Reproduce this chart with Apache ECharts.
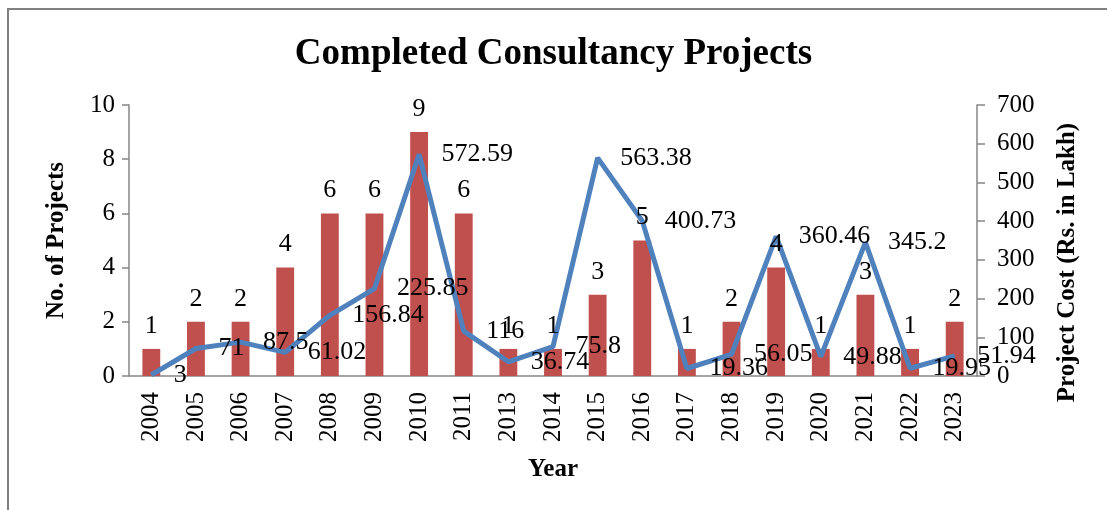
<!DOCTYPE html>
<html>
<head>
<meta charset="utf-8">
<script src="https://cdn.jsdelivr.net/npm/echarts@6/dist/echarts.min.js"></script>
<style>
html,body{margin:0;padding:0;background:#fff;}
#chart{width:1107px;height:510px;}
</style>
</head>
<body>
<div id="chart"></div>
<script>
const years = ['2004','2005','2006','2007','2008','2009','2010','2011','2013','2014','2015','2016','2017','2018','2019','2020','2021','2022','2023'];
const projectCounts = [1,2,2,4,6,6,9,6,1,1,3,5,1,2,4,1,3,1,2];
const projectCost = [3,71,87.5,61.02,156.84,225.85,572.59,116,36.74,75.8,563.38,400.73,19.36,56.05,360.46,49.88,345.2,19.95,51.94];
const leftTicks = [0,2,4,6,8,10];
const rightTicks = [0,100,200,300,400,500,600,700];

const FONT = "'Liberation Serif','Times New Roman',serif";
const axisGray = '#868686';

const chart = echarts.init(document.getElementById('chart'));
chart.setOption({
  animation: false,
  backgroundColor: '#ffffff',
  title: {
    text: 'Completed Consultancy Projects',
    left: 'center',
    top: 31,
    textStyle: {fontFamily: FONT, fontSize: 37, fontWeight: 'bold', color: '#000'}
  },
  graphic: [
    {type: 'polyline', silent: true, shape: {points: [[8,510],[8,9],[1107,9]]}, style: {stroke: '#808080', lineWidth: 2, fill: null}}
  ],
  grid: {left: 129, right: 130, top: 105, bottom: 134, containLabel: false},
  xAxis: {
    type: 'category',
    data: years,
    name: 'Year',
    nameLocation: 'middle',
    nameGap: 81,
    nameTextStyle: {fontFamily: FONT, fontSize: 25, fontWeight: 'bold', color: '#000'},
    axisLine: {lineStyle: {color: axisGray, width: 1.5}},
    axisTick: {show: false},
    axisLabel: {rotate: 90, interval: 0, margin: 16, fontFamily: FONT, fontSize: 25, color: '#000'}
  },
  yAxis: [
    {
      type: 'value',
      min: leftTicks[0], max: leftTicks[leftTicks.length-1], interval: 2,
      name: 'No. of Projects',
      nameLocation: 'middle',
      nameGap: 60,
      nameTextStyle: {fontFamily: FONT, fontSize: 25, fontWeight: 'bold', color: '#000'},
      axisLine: {show: true, lineStyle: {color: axisGray, width: 1.5}},
      axisTick: {show: true, inside: false, length: 7, lineStyle: {color: axisGray, width: 1.5}},
      axisLabel: {margin: 14, fontFamily: FONT, fontSize: 25, color: '#000'},
      splitLine: {show: false}
    },
    {
      type: 'value',
      min: rightTicks[0], max: rightTicks[rightTicks.length-1], interval: 100,
      position: 'right',
      name: 'Project Cost (Rs. in Lakh)',
      nameLocation: 'middle',
      nameGap: 78,
      nameTextStyle: {fontFamily: FONT, fontSize: 25, fontWeight: 'bold', color: '#000', padding: [0, 44, 0, 0]},
      axisLine: {show: true, lineStyle: {color: axisGray, width: 1.5}},
      axisTick: {show: true, inside: false, length: 8, lineStyle: {color: axisGray, width: 1.5}},
      axisLabel: {margin: 20, fontFamily: FONT, fontSize: 25, color: '#000'},
      splitLine: {show: false}
    }
  ],
  series: [
    {
      name: 'No. of Projects',
      type: 'bar',
      yAxisIndex: 0,
      data: projectCounts,
      barWidth: '40%',
      itemStyle: {color: '#C0504D'},
      z: 2
    },
    {
      name: 'Project Cost',
      type: 'line',
      yAxisIndex: 1,
      data: projectCost,
      symbol: 'circle',
      symbolSize: 1,
      showSymbol: true,
      lineStyle: {color: '#4F81BD', width: 5},
      itemStyle: {color: '#4F81BD'},
      label: {show: true, position: 'right', distance: 22, fontFamily: FONT, fontSize: 26, color: '#000'},
      labelLayout: {hideOverlap: false},
      z: 3
    },
    {
      name: 'No. of Projects labels',
      type: 'bar',
      yAxisIndex: 0,
      data: projectCounts,
      barWidth: '40%',
      barGap: '-100%',
      itemStyle: {color: 'rgba(0,0,0,0)'},
      label: {show: true, position: 'top', distance: 10, fontFamily: FONT, fontSize: 26, color: '#000'},
      silent: true,
      z: 4
    }
  ]
});
</script>
</body>
</html>
